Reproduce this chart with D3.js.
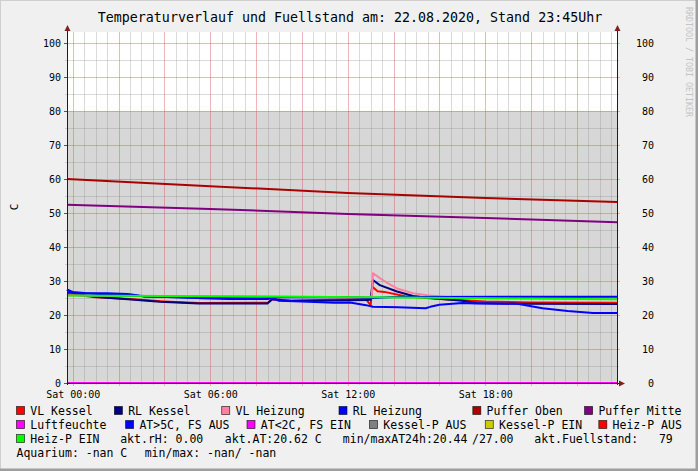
<!DOCTYPE html>
<html><head><meta charset="utf-8">
<script src="https://cdn.jsdelivr.net/npm/d3@7"></script>
<style>html,body{margin:0;padding:0;background:#f0f0f0;}svg{display:block;font-family:"DejaVu Sans Mono",monospace;}</style>
</head><body><svg id="c" width="698" height="471"></svg>
<script>
// ---------- DATA ----------
const titleText = "Temperaturverlauf und Fuellstand am: 22.08.2020, Stand 23:45Uhr";
const yAxisLabel = "C";
const watermarkText = "RRDTOOL / TOBI OETIKER";
const yTickValues = [0,10,20,30,40,50,60,70,80,90,100];
const yMinorValues = [5,15,25,35,45,55,65,75,85,95];
const dayStart = Date.UTC(2020,7,22,0,0);      // Sat 22.08.2020 00:00
const rangeStartHour = -0.25, rangeEndHour = 23.75;

// series: [hour since Sat 00:00, value]
const fuellstand = [[-0.25,79.9],[1,80],[2,79.9],[3,79.9],[4,80],[5,79.9],[6,80],[7,80],[8,79.9],[9,80],[10,80],[11,79.9],[12,80],[13,80],[14,79.9],[15,80],[16,80],[17,79.9],[18,80],[19,80],[20,79.9],[21,80],[22,80],[23,80],[23.75,80]];
const vlKessel = [[-0.25,26.2],[0,26.0],[1,25.2],[2.5,24.7],[4,24.0],[5.5,23.5],[8.5,23.6],[8.7,24.6],[9.5,24.3],[12.8,24.6],[13.0,22.9],[13.08,28.3],[13.3,27.0],[13.6,26.8],[14.5,25.5],[16,24.7],[18,24.0],[20,23.7],[23.75,23.6]];
const rlKessel = [[-0.25,27.4],[0,26.5],[0.9,25.4],[2.4,24.6],[3.8,23.9],[5.5,23.4],[8.5,23.4],[8.7,24.6],[9.5,24.1],[11.4,24.3],[12.8,24.4],[13.0,24.5],[13.1,30.3],[13.4,28.8],[14.15,26.9],[14.85,25.6],[15.6,25.0],[17,24.2],[17.6,23.5],[19.5,23.3],[23.75,23.2]];
const vlHeizung = [[-0.25,25.7],[6,25.5],[12.9,25.2],[13.05,25.5],[13.1,32.3],[13.41,30.8],[13.76,29.3],[14.15,27.8],[14.85,26.4],[15.6,25.7],[16.3,25.3],[23.75,24.8]];
const rlHeizung = [[-0.25,26.6],[2,25.9],[5,25.1],[8.5,24.9],[9,25.3],[12,25.2],[13.1,25.0],[14,25.3],[23.75,25.4]];
const pufferOben = [[-0.25,60.0],[6,57.9],[12,55.9],[18,54.4],[23.75,53.2]];
const pufferMitte = [[-0.25,52.4],[6,51.2],[12,49.7],[18,48.5],[23.75,47.3]];
const luftfeuchte = [[-0.25,0],[23.75,0]];
const aussenTemp = [[-0.25,27.5],[0,26.8],[0.5,26.5],[1.5,26.4],[2.4,26.2],[2.8,25.8],[3.1,25.4],[4,25.3],[5,25.2],[5.6,24.9],[6.8,24.7],[8.5,24.7],[8.7,25.0],[9.0,24.2],[10,24.0],[11.4,23.6],[12.1,23.7],[12.8,22.9],[13.1,22.4],[14.2,22.3],[15.4,22.0],[15.6,22.4],[16,23.0],[17,23.5],[17.6,23.4],[19.4,23.3],[20.5,22.0],[21.6,21.2],[22.7,20.6],[23.75,20.6]];
const heizPEin = [[-0.25,25.7],[6,25.5],[13,25.2],[18,24.9],[23.75,24.6]];

const legendRows = [
  [["VL Kessel","#ff0000"],["RL Kessel","#000080"],["VL Heizung","#ff80a0"],["RL Heizung","#0000ff"],["Puffer Oben","#aa0000"],["Puffer Mitte","#800080"]],
  [["Luftfeuchte","#ff00ff"],["AT>5C, FS AUS","#0000ff"],["AT<2C, FS EIN","#ff00ff"],["Kessel-P AUS","#808080"],["Kessel-P EIN","#cccc00"],["Heiz-P AUS","#ff0000"]],
  [["Heiz-P EIN","#00ff00"]]
];
const legendTexts = [
  ["akt.rH: 0.00","akt.AT:20.62 C","min/maxAT24h:20.44","/27.00","akt.Fuellstand:   79"],
  ["Aquarium: -nan C","min/max: -nan/ -nan"]
];

// ---------- LAYOUT ----------
const L = 67, R = 617, T = 32, B = 383;
const legendBoxX = [[16.5,114.4,221.7,339,472.8,584.6],[16.5,125.6,247,369.5,485.3,598.8],[16.5]];
const legendTextX = [[120.2,224.8,342.8,472,534.3],[16.5,144.7]];
const legendRowY = [411,425,439,453];

const svg = d3.select("#c");
const hourToDate = h => new Date(dayStart + h*3600e3);
const x = d3.scaleUtc().domain([hourToDate(rangeStartHour), hourToDate(rangeEndHour)]).range([L, R]);
const y = d3.scaleLinear().domain([0, (B-T)/3.4]).range([B, T]);

// background + frame
svg.append("rect").attr("width",698).attr("height",471).attr("fill","#f0f0f0");
svg.append("path").attr("d","M0,470 V0 H697").attr("stroke","#cfcfcf").attr("stroke-width",2).attr("fill","none");
svg.append("path").attr("d","M697,0 V470 H0").attr("stroke","#9e9e9e").attr("stroke-width",3).attr("fill","none");

// canvas
svg.append("rect").attr("x",L).attr("y",T).attr("width",R-L).attr("height",B-T).attr("fill","#ffffff");

// fill level area
svg.append("path").datum(fuellstand)
  .attr("fill","#d7d7d7")
  .attr("d", d3.area().curve(d3.curveStepAfter).x(d=>x(hourToDate(d[0]))).y0(y(0)).y1(d=>y(d[1])));

// grid
const gMinor = "rgba(140,140,140,0.32)", gMajor = "rgba(222,79,79,0.42)";
const grid = svg.append("g").attr("shape-rendering","crispEdges");
const minorTimes = d3.utcMinute.every(30).range(x.domain()[0], x.domain()[1]).filter(d => d.getUTCMinutes()!==0 || d.getUTCHours()%2!==0);
const majorTimes = d3.utcHour.every(2).range(x.domain()[0], x.domain()[1]);
grid.selectAll(".vmin").data(minorTimes).join("line")
  .attr("x1",d=>Math.round(x(d))+0.5).attr("x2",d=>Math.round(x(d))+0.5).attr("y1",T).attr("y2",B+2)
  .attr("stroke",gMinor);
grid.selectAll(".hmin").data(yMinorValues).join("line")
  .attr("x1",L-2).attr("x2",R+2).attr("y1",d=>Math.round(y(d))+0.5).attr("y2",d=>Math.round(y(d))+0.5)
  .attr("stroke",gMinor);
grid.selectAll(".vmaj").data(majorTimes).join("line")
  .attr("x1",d=>Math.round(x(d))+0.5).attr("x2",d=>Math.round(x(d))+0.5).attr("y1",T).attr("y2",B+3)
  .attr("stroke",gMajor);
grid.selectAll(".hmaj").data(yTickValues.filter(v=>v>0)).join("line")
  .attr("x1",L-3).attr("x2",R+3).attr("y1",d=>Math.round(y(d))+0.5).attr("y2",d=>Math.round(y(d))+0.5)
  .attr("stroke",gMajor);

// lines
const line = d3.line().x(d=>x(hourToDate(d[0]))).y(d=>y(d[1]));
const series = [
  [vlKessel,"#ff0000"],[rlKessel,"#000080"],[vlHeizung,"#ff80a0"],[rlHeizung,"#0000ff"],
  [pufferOben,"#aa0000"],[pufferMitte,"#800080"],[luftfeuchte,"#ff00ff"],[aussenTemp,"#0000ff"],[heizPEin,"#00ff00"]
];
svg.append("g").selectAll("path").data(series).join("path")
  .attr("d",d=>line(d[0])).attr("stroke",d=>d[1]).attr("stroke-width",2).attr("fill","none")
  .attr("stroke-linejoin","round");

// axes
const axisCol = "#1f1f1f", arrowCol = "#7f1f1f";
svg.append("line").attr("x1",L+0.5).attr("x2",L+0.5).attr("y1",B+2).attr("y2",T-3).attr("stroke",axisCol);
svg.append("line").attr("x1",R+0.5).attr("x2",R+0.5).attr("y1",B+2).attr("y2",T-3).attr("stroke",axisCol);
svg.append("line").attr("x1",L-2).attr("x2",R+3).attr("y1",B+0.5).attr("y2",B+0.5).attr("stroke",axisCol);
svg.append("path").attr("d",`M${L-2.5},${T-1} L${L+0.5},${T-7} L${L+3.5},${T-1} Z`).attr("fill",arrowCol);
svg.append("path").attr("d",`M${R-2.5},${T-1} L${R+0.5},${T-7} L${R+3.5},${T-1} Z`).attr("fill",arrowCol);
svg.append("path").attr("d",`M${R+2},${B-2.5} L${R+8},${B+0.5} L${R+2},${B+3.5} Z`).attr("fill",arrowCol);

const yl = svg.append("g").attr("transform",`translate(${L},0)`)
  .call(d3.axisLeft(y).tickValues(yTickValues).tickSize(3).tickPadding(3).tickFormat(d3.format("d")));
yl.select(".domain").remove();
yl.selectAll(".tick line").attr("stroke","#555");
yl.selectAll(".tick text").attr("font-family","DejaVu Sans Mono").attr("font-size","10px").attr("fill","#000").attr("x",-6);

const yr = svg.append("g").attr("transform",`translate(${R},0)`)
  .call(d3.axisRight(y).tickValues(yTickValues).tickSize(0).tickFormat(d3.format("d")));
yr.select(".domain").remove();
yr.selectAll(".tick text").attr("font-family","DejaVu Sans Mono").attr("font-size","10px").attr("fill","#000")
  .attr("text-anchor","end").attr("x",37);

const xb = svg.append("g").attr("transform",`translate(0,${B})`)
  .call(d3.axisBottom(x).ticks(d3.utcHour.every(6)).tickSize(0).tickFormat(d3.utcFormat("%a %H:%M")));
xb.select(".domain").remove();
xb.selectAll(".tick text").attr("font-family","DejaVu Sans Mono").attr("font-size","10px").attr("fill","#000")
  .attr("y",8).attr("dy","0.71em");

// title, y label, watermark
svg.append("text").attr("x",350).attr("y",21.5).attr("text-anchor","middle").attr("font-size","13.3px").attr("fill","#000").text(titleText);
svg.append("text").attr("transform","translate(18,207) rotate(-90)").attr("text-anchor","middle").attr("font-size","11px").attr("fill","#000").text(yAxisLabel);
svg.append("text").attr("transform","translate(685.5,7) rotate(90)").attr("font-size","8.3px").attr("fill","#c4c4c4").text(watermarkText);

// legend
const lg = svg.append("g").attr("font-size","11.5px").attr("fill","#000");
legendRows.forEach((row,ri)=>{
  row.forEach((item,ii)=>{
    const bx = legendBoxX[ri][ii], cy = legendRowY[ri];
    lg.append("rect").attr("x",bx).attr("y",cy-4.5).attr("width",8).attr("height",8)
      .attr("fill",item[1]).attr("stroke","rgba(0,0,0,0.7)").attr("stroke-width",0.8);
    lg.append("text").attr("x",bx+13.8).attr("y",cy+4).text(item[0]);
  });
});
legendTexts.forEach((row,ri)=>{
  row.forEach((t,ii)=>{
    lg.append("text").attr("x",legendTextX[ri][ii]).attr("y",legendRowY[ri+2]+4).attr("xml:space","preserve").style("white-space","pre").text(t);
  });
});
</script></body></html>
